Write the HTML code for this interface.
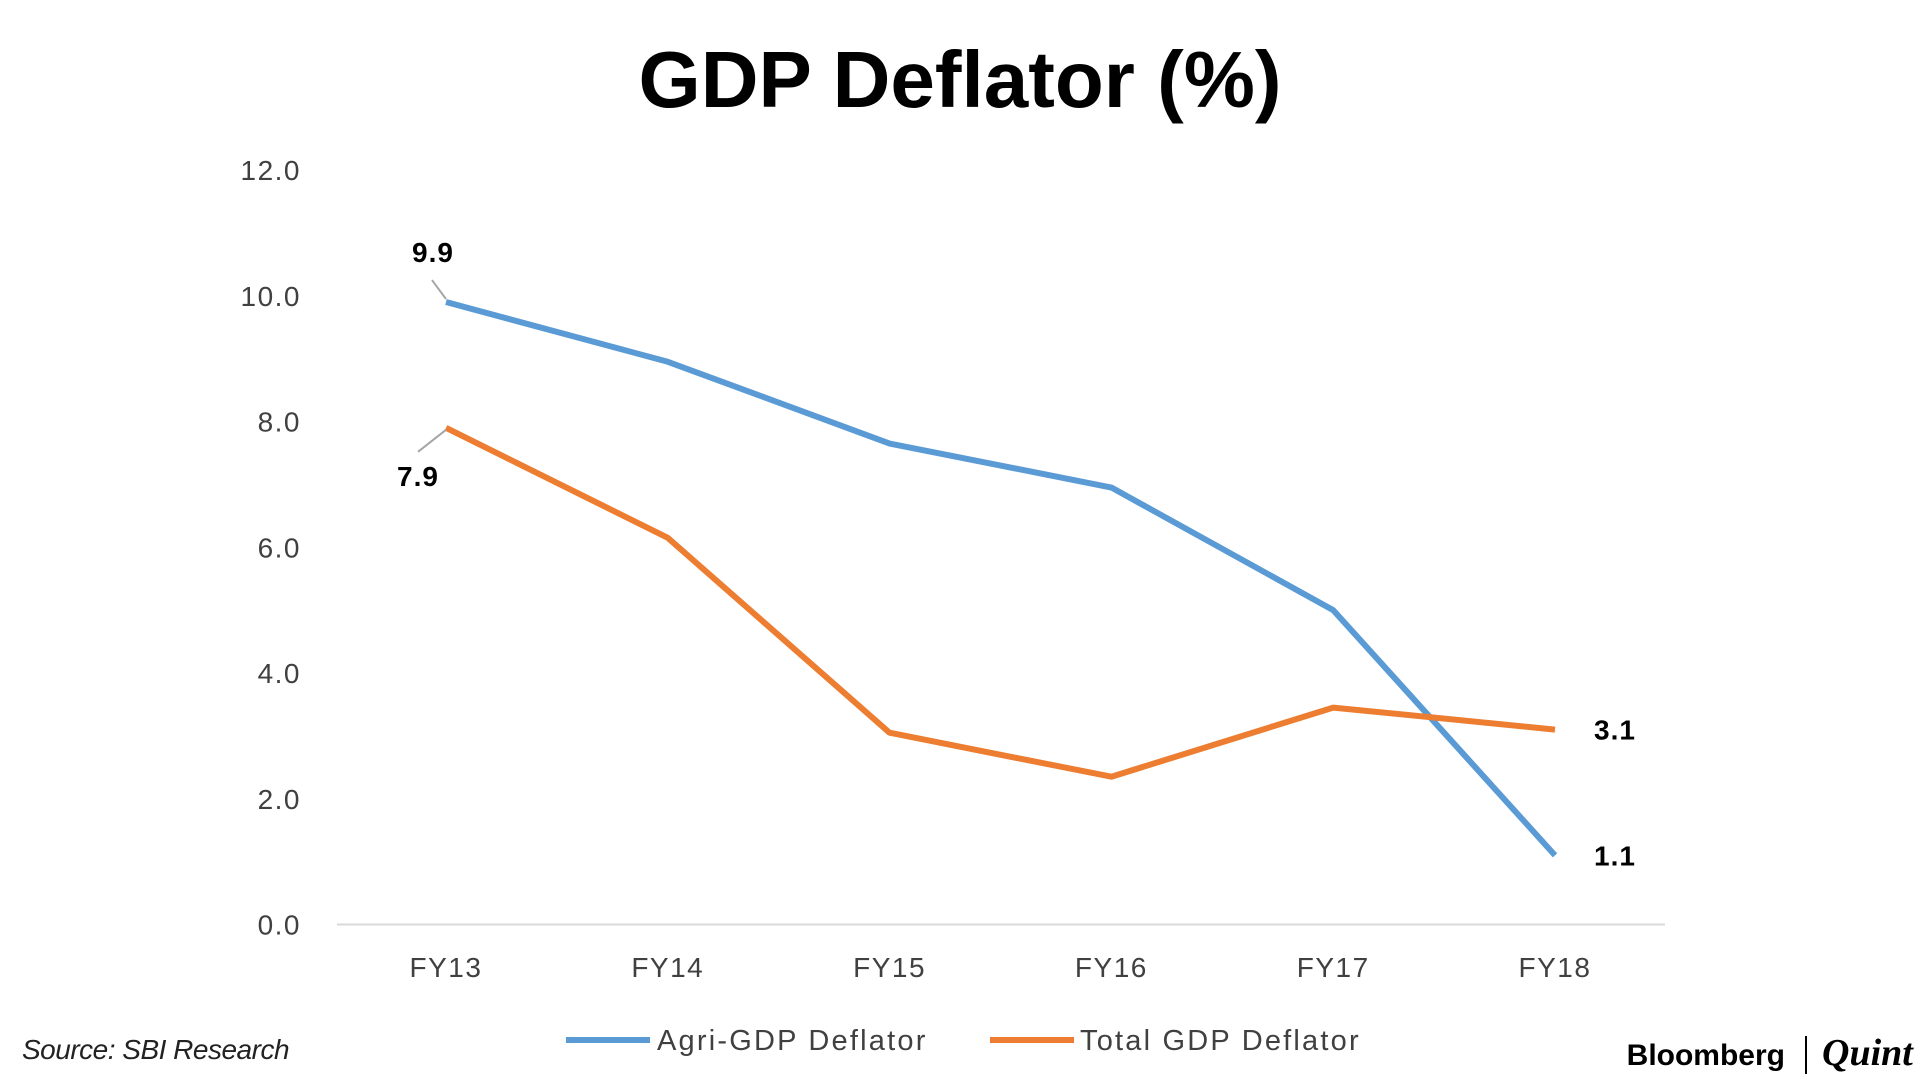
<!DOCTYPE html>
<html><head><meta charset="utf-8"><style>
body{margin:0;background:#fff;width:1920px;height:1080px;overflow:hidden;font-family:"Liberation Sans",sans-serif}
</style></head><body>
<svg width="1920" height="1080" xmlns="http://www.w3.org/2000/svg" id="svg">
<text x="960" y="107" text-anchor="middle" font-size="80" font-weight="bold" fill="#000">GDP Deflator (%)</text>
<line x1="337" y1="924.5" x2="1665" y2="924.5" stroke="#d9d9d9" stroke-width="2"/>
<g id="yt"></g><g id="xt"></g><g id="lines"></g><g id="labels"></g>
<line x1="566" y1="1040" x2="650" y2="1040" stroke="#5b9bd5" stroke-width="6"/>
<text x="657" y="1050" font-size="29" letter-spacing="2.2" fill="#404040">Agri-GDP Deflator</text>
<line x1="990" y1="1040" x2="1074" y2="1040" stroke="#ed7d31" stroke-width="6"/>
<text x="1080" y="1050" font-size="29" letter-spacing="2.2" fill="#404040">Total GDP Deflator</text>
<text x="22" y="1059" font-size="28" font-style="italic" fill="#222" letter-spacing="-0.5">Source: SBI Research</text>
<text x="1785" y="1065" text-anchor="end" font-size="30" font-weight="bold" fill="#000">Bloomberg</text>
<line x1="1806" y1="1036" x2="1806" y2="1074" stroke="#000" stroke-width="2"/>
<text x="1822" y="1065" font-family="Liberation Serif" font-size="38" font-style="italic" font-weight="bold" fill="#000">Quint</text>
</svg>
<script>
const categories=["FY13","FY14","FY15","FY16","FY17","FY18"];
const agriValues=[9.9,8.95,7.65,6.95,5.0,1.1];
const totalValues=[7.9,6.15,3.05,2.35,3.45,3.1];
const yTicks=[0,2,4,6,8,10,12];
const NS="http://www.w3.org/2000/svg";
const x=i=>446+i*(1555-446)/(categories.length-1);
const y=v=>924.5-v*(924.5-170)/12;
function mk(tag,attrs,parent,text){const e=document.createElementNS(NS,tag);for(const k in attrs)e.setAttribute(k,attrs[k]);if(text!==undefined)e.textContent=text;document.getElementById(parent).appendChild(e);return e;}
yTicks.forEach(t=>{const e=mk("text",{x:301,y:y(t)+10,"text-anchor":"end","font-size":28,"letter-spacing":1.5,fill:"#404040"},"yt",t.toFixed(1));

});
categories.forEach((c,i)=>{const e=mk("text",{x:x(i),y:977,"text-anchor":"middle","font-size":28,"letter-spacing":1.5,fill:"#404040"},"xt",c);

});
[[agriValues,"#5b9bd5","agri-line"],[totalValues,"#ed7d31","total-line"]].forEach(([vals,col,name])=>{
const e=mk("polyline",{points:vals.map((v,i)=>x(i)+","+y(v)).join(" "),fill:"none",stroke:col,"stroke-width":6,"stroke-linejoin":"round"},"lines");

});
const n=categories.length-1;
const lbl=[[x(0)-13,y(agriValues[0])-40,agriValues[0]],[x(0)-28,y(totalValues[0])+58,totalValues[0]],[x(n)+60,y(totalValues[n])+10,totalValues[n]],[x(n)+60,y(agriValues[n])+10,agriValues[n]]];
lbl.forEach(([lx,ly,v])=>{const e=mk("text",{x:lx,y:ly,"text-anchor":"middle","font-size":28,"font-weight":"bold","letter-spacing":1,fill:"#000"},"labels",v.toFixed(1));

});
const l1=mk("line",{x1:x(0)-14,y1:y(agriValues[0])-22,x2:x(0),y2:y(agriValues[0])-3,stroke:"#a6a6a6","stroke-width":2},"labels");


const l2=mk("line",{x1:x(0)-28,y1:y(totalValues[0])+24,x2:x(0),y2:y(totalValues[0])+2,stroke:"#a6a6a6","stroke-width":2},"labels");


</script>
</body></html>
